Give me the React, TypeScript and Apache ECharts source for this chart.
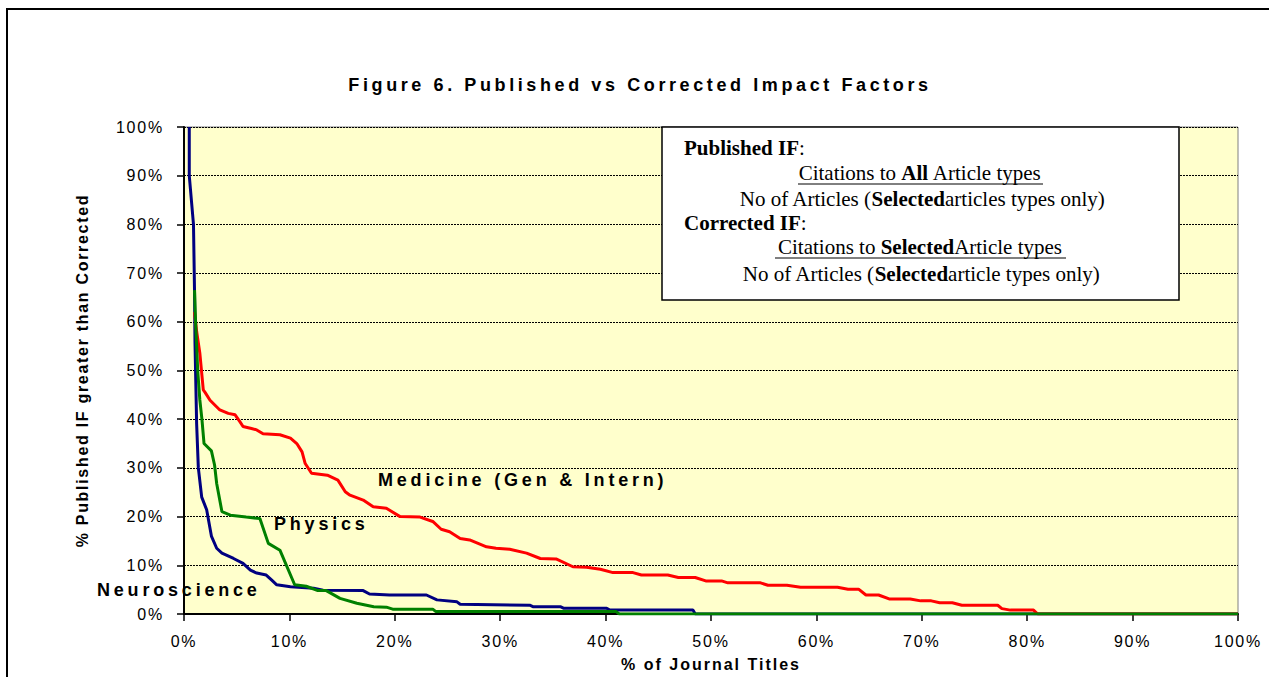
import React, { useEffect, useRef } from "react";
import * as echarts from "echarts";

const TITLE = "Figure 6. Published vs Corrected Impact Factors";
const X_NAME = "% of Journal Titles";
const Y_NAME = "% Published IF greater than Corrected";
const TICK_STEP = 10;
const AXIS_MIN = 0;
const AXIS_MAX = 100;

const SERIES_NAMES = ["Neuroscience", "Medicine (Gen & Intern)", "Physics"];
const SERIES_COLORS = ["#000080", "#FF0000", "#008000"];

// [x = % of journal titles, y = % published IF greater than corrected]
const neuroscience: [number, number][] = [
  [0.5, 100], [0.5, 90], [0.9, 80], [1.0, 66], [1.04, 56], [1.2, 39], [1.36, 30], [1.68, 24],
  [2.15, 21.4], [2.6, 16], [3.1, 13.5], [3.6, 12.5], [4.7, 11.4], [5.6, 10.4], [6.3, 9], [6.9, 8.4],
  [7.8, 8], [8.3, 7], [8.8, 6], [10.1, 5.6], [12.3, 5.3], [13.2, 4.9], [17, 4.8], [17.6, 4.1],
  [19.5, 3.9], [23, 3.9], [24, 2.9], [25.9, 2.5], [26.2, 2], [32.8, 1.8], [33.1, 1.5], [35.7, 1.5],
  [36, 1.2], [40.1, 1.2], [40.4, 0.8], [48.3, 0.8], [48.5, 0], [100, 0],
];

const medicine: [number, number][] = [
  [1.0, 62], [1.2, 58], [1.5, 53.6], [1.83, 46], [2.0, 45.5], [2.47, 43.9], [3.4, 41.9], [4.2, 41.2],
  [4.85, 40.9], [5.3, 39.5], [5.6, 38.5], [6.4, 38.1], [6.9, 37.8], [7.5, 37], [9.1, 36.8], [10.1, 36.1],
  [10.7, 35], [11.2, 33.3], [11.5, 30.9], [12.1, 28.9], [13.6, 28.5], [14.6, 27.5], [15.3, 25.1],
  [15.75, 24.4], [17, 23.4], [17.95, 22], [19.2, 21.7], [20.5, 20], [22.4, 19.9], [23.6, 19],
  [24.4, 17.4], [25.2, 16.9], [26.2, 15.5], [27.1, 15.2], [28.7, 13.8], [29.6, 13.5], [30.9, 13.3],
  [32.5, 12.5], [33.8, 11.4], [35.3, 11.3], [36.9, 9.7], [38.2, 9.6], [39.5, 9.2], [40.7, 8.5],
  [42.6, 8.5], [43.4, 8], [45.9, 8], [46.9, 7.5], [48.5, 7.5], [49.5, 6.8], [51, 6.8], [51.6, 6.4],
  [54.7, 6.4], [55.4, 5.9], [57.2, 5.9], [58.5, 5.5], [62, 5.5], [63, 5.1], [64, 5.1], [64.7, 3.9],
  [65.9, 3.9], [66.9, 3.1], [68.9, 3.1], [69.9, 2.7], [70.9, 2.7], [71.7, 2.3], [72.9, 2.3],
  [73.8, 1.8], [77.2, 1.8], [77.6, 1.1], [78.4, 0.8], [80.6, 0.8], [81, 0], [100, 0],
];

const physics: [number, number][] = [
  [1.0, 66.5], [1.1, 60], [1.3, 50], [1.5, 44], [1.7, 40], [1.9, 35], [2.6, 33.5], [2.9, 30.6],
  [3.1, 26.8], [3.6, 21], [4.4, 20.3], [5.9, 19.9], [7.2, 19.6], [8.0, 14.5], [9.1, 13.1], [10.5, 6],
  [11.6, 5.7], [12.7, 4.8], [13.5, 4.8], [14.8, 3.2], [16.4, 2.2], [18, 1.5], [19.2, 1.4], [19.8, 1.0],
  [23.6, 1.0], [23.9, 0.5], [41, 0.5], [41.3, 0], [100, 0],
];

const SERIES_DATA = [neuroscience, medicine, physics];

const SANS = "'Liberation Sans', Arial, sans-serif";
const SERIF = "'Liberation Serif', 'Times New Roman', serif";

const letterSpacingFor = (t: string): number => {
  if (t === TITLE) return 3.6;
  if (SERIES_NAMES.includes(t)) return 3.8;
  if (t === X_NAME) return 2;
  if (t === Y_NAME) return 1.7;
  if (/^\d+%$/.test(t)) return 1.8;
  return 0;
};

export default function App() {
  const ref = useRef<HTMLDivElement>(null);

  useEffect(() => {
    if (!ref.current) return;
    const chart = echarts.init(ref.current, undefined, { renderer: "svg" });

    const boxRich = {
      n: { fontFamily: SERIF, fontSize: 21, color: "#000" },
      b: { fontFamily: SERIF, fontSize: 21, fontWeight: "bold" as const, color: "#000" },
    };

    const labelStyle = (text: string) => ({
      text,
      fontFamily: SANS,
      fontSize: 18,
      fontWeight: "bold",
      fill: "#000",
      textAlign: "left",
      textVerticalAlign: "middle",
    });

    const option: any = {
      animation: false,
      backgroundColor: "#FFFFFF",
      grid: {
        left: 184,
        right: 31,
        top: 127,
        bottom: 63,
        show: true,
        backgroundColor: "#FFFFCC",
        borderColor: "#808080",
        borderWidth: 1,
      },
      xAxis: {
        type: "value",
        min: AXIS_MIN,
        max: AXIS_MAX,
        interval: TICK_STEP,
        name: X_NAME,
        nameLocation: "middle",
        nameGap: 42,
        nameTextStyle: { fontFamily: SANS, fontSize: 16, fontWeight: "bold", color: "#000" },
        axisLine: { show: true, onZero: false, lineStyle: { color: "#000", width: 2 } },
        axisTick: { show: true, inside: false, length: 7, lineStyle: { color: "#000", width: 1.5 } },
        axisLabel: {
          formatter: "{value}%",
          fontFamily: SANS,
          fontSize: 16,
          color: "#000",
          margin: 19,
        },
        splitLine: { show: false },
      },
      yAxis: {
        type: "value",
        min: AXIS_MIN,
        max: AXIS_MAX,
        interval: TICK_STEP,
        name: Y_NAME,
        nameLocation: "middle",
        nameRotate: 90,
        nameGap: 94,
        nameTextStyle: { fontFamily: SANS, fontSize: 16, fontWeight: "bold", color: "#000" },
        axisLine: { show: true, onZero: false, lineStyle: { color: "#000", width: 2 } },
        axisTick: { show: true, inside: false, length: 7, lineStyle: { color: "#000", width: 1.5 } },
        axisLabel: {
          formatter: "{value}%",
          fontFamily: SANS,
          fontSize: 16,
          color: "#000",
          margin: 20,
        },
        splitLine: { show: true, lineStyle: { color: "#000", width: 1, type: [2, 1] } },
      },
      series: SERIES_DATA.map((d, i) => ({
        name: SERIES_NAMES[i],
        type: "line",
        data: d,
        showSymbol: false,
        symbol: "none",
        lineStyle: { color: SERIES_COLORS[i], width: 3 },
        itemStyle: { color: SERIES_COLORS[i] },
        z: 2 + i,
        silent: true,
      })),
      graphic: [
        {
          type: "rect",
          shape: { x: 7, y: 9, width: 1300, height: 720 },
          style: { fill: "none", stroke: "#000", lineWidth: 2 },
          silent: true,
          z: 100,
        },
        {
          type: "text",
          x: 640,
          y: 85,
          style: {
            text: TITLE,
            fontFamily: SANS,
            fontSize: 18,
            fontWeight: "bold",
            fill: "#000",
            textAlign: "center",
            textVerticalAlign: "middle",
          },
          z: 100,
        },
        { type: "text", x: 378, y: 480, style: labelStyle(SERIES_NAMES[1]), z: 100 },
        { type: "text", x: 274, y: 524, style: labelStyle(SERIES_NAMES[2]), z: 100 },
        { type: "text", x: 97, y: 590, style: labelStyle(SERIES_NAMES[0]), z: 100 },
        {
          type: "rect",
          shape: { x: 662, y: 127, width: 517, height: 173 },
          style: { fill: "#FFFFFF", stroke: "#000", lineWidth: 1.5 },
          z: 90,
        },
        {
          type: "text", x: 684, y: 148, z: 95,
          style: { text: "{b|Published IF}{n|:}", rich: boxRich, textAlign: "left", textVerticalAlign: "middle" },
        },
        {
          type: "text", x: 920, y: 173, z: 95,
          style: { text: "{n|Citations to }{b|All}{n| Article types}", rich: boxRich, textAlign: "center", textVerticalAlign: "middle" },
        },
        {
          type: "line", z: 95,
          shape: { x1: 798, y1: 184, x2: 1043, y2: 184 },
          style: { stroke: "#000", lineWidth: 1 },
        },
        {
          type: "text", x: 922, y: 199, z: 95,
          style: { text: "{n|No of Articles (}{b|Selected}{n|articles types only)}", rich: boxRich, textAlign: "center", textVerticalAlign: "middle" },
        },
        {
          type: "text", x: 684, y: 223, z: 95,
          style: { text: "{b|Corrected IF}{n|:}", rich: boxRich, textAlign: "left", textVerticalAlign: "middle" },
        },
        {
          type: "text", x: 920, y: 247, z: 95,
          style: { text: "{n|Citations to }{b|Selected}{n|Article types}", rich: boxRich, textAlign: "center", textVerticalAlign: "middle" },
        },
        {
          type: "line", z: 95,
          shape: { x1: 775, y1: 258, x2: 1066, y2: 258 },
          style: { stroke: "#000", lineWidth: 1 },
        },
        {
          type: "text", x: 921, y: 274, z: 95,
          style: { text: "{n|No of Articles (}{b|Selected}{n|article types only)}", rich: boxRich, textAlign: "center", textVerticalAlign: "middle" },
        },
      ],
    };

    chart.setOption(option);

    const applySpacing = () => {
      const el = ref.current;
      if (!el) return;
      el.querySelectorAll("text").forEach((t) => {
        const ls = letterSpacingFor((t.textContent || "").trim());
        if (ls) (t as SVGTextElement).style.letterSpacing = ls + "px";
      });
    };
    applySpacing();
    chart.on("finished", applySpacing);
    const raf = requestAnimationFrame(applySpacing);

    return () => {
      cancelAnimationFrame(raf);
      chart.dispose();
    };
  }, []);

  return (
    <div
      ref={ref}
      style={{ position: "absolute", left: 0, top: 0, width: 1269, height: 677, background: "#fff" }}
    />
  );
}
